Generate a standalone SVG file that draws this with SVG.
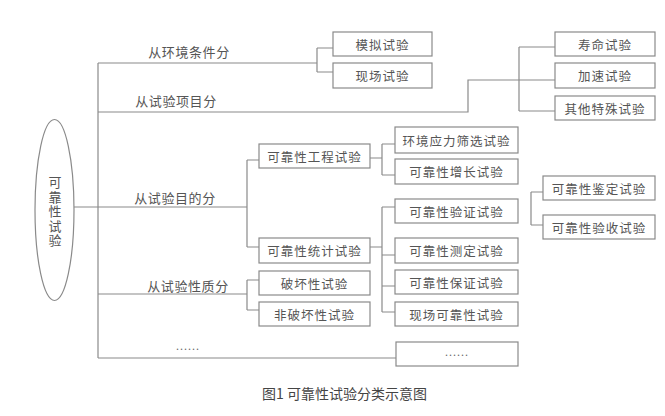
<svg xmlns="http://www.w3.org/2000/svg" width="665" height="416" viewBox="0 0 665 416">
<style>
.box{fill:#fff;stroke:#8a8a8a;stroke-width:1.2}
.t{font-family:"Noto Sans CJK SC","Noto Sans",sans-serif;font-size:12.5px;fill:#555;text-anchor:middle;dominant-baseline:central;letter-spacing:1px}
.lbl{font-family:"Noto Sans CJK SC","Noto Sans",sans-serif;font-size:13px;fill:#555;text-anchor:middle;dominant-baseline:central;letter-spacing:0.6px}
.dots{font-family:"Liberation Serif",serif;font-size:12px;fill:#666;text-anchor:middle;dominant-baseline:central;letter-spacing:1px}
.ln{fill:none;stroke:#8a8a8a;stroke-width:1.2}
.cap{font-family:"Noto Sans CJK SC","Noto Sans",sans-serif;font-size:14px;fill:#444;dominant-baseline:central}
</style>
<rect width="665" height="416" fill="#fff"/>
<g id="connectors" class="ln">
<path d="M98,63 V358"/>
<path d="M98,63 H317 M317,48 V72 M317,48 H333 M317,72 H333"/>
<path d="M98,112 H468 V80 H519 M519,47 V111 M519,47 H555 M519,80 H555 M519,111 H555"/>
<path d="M74,207 H247 M247,160 V247 M247,160 H259 M247,247 H259"/>
<path d="M98,294 H247 M247,280 V310 M247,280 H259 M247,310 H259"/>
<path d="M98,358 H396"/>
<path d="M370,158 H382 M382,144 V175 M382,144 H395 M382,175 H395"/>
<path d="M370,247 H382 M382,207 V312 M382,207 H395 M382,255 H395 M382,286 H395 M382,312 H395"/>
<path d="M531,192 V225 M531,192 H543 M531,225 H543"/>
</g>
<g id="labels">
<text class="lbl" x="189" y="51">从环境条件分</text>
<text class="lbl" x="176" y="100">从试验项目分</text>
<text class="lbl" x="175" y="197">从试验目的分</text>
<text class="lbl" x="188" y="285">从试验性质分</text>
<text class="dots" x="188" y="346">......</text>
</g>
<g id="root">
<ellipse cx="54.5" cy="210" rx="19.5" ry="90.5" fill="#fff" stroke="#8a8a8a" stroke-width="1.2"/>
<text x="55" y="212" writing-mode="vertical-rl" style="font-family:'Noto Sans CJK SC','Noto Sans',sans-serif;font-size:13px;fill:#555;text-anchor:middle;letter-spacing:1.5px">可靠性试验</text>
</g>
<g id="n-moni"><rect class="box" x="333" y="32" width="99" height="24"/><text class="t" x="382.5" y="44">模拟试验</text></g>
<g id="n-xianchang"><rect class="box" x="333" y="63" width="99" height="25"/><text class="t" x="382.5" y="75.5">现场试验</text></g>
<g id="n-shouming"><rect class="box" x="555" y="32" width="100" height="24"/><text class="t" x="605" y="44">寿命试验</text></g>
<g id="n-jiasu"><rect class="box" x="555" y="63" width="100" height="25"/><text class="t" x="605" y="75.5">加速试验</text></g>
<g id="n-qita"><rect class="box" x="555" y="96" width="100" height="24"/><text class="t" x="605" y="108">其他特殊试验</text></g>
<g id="n-gongcheng"><rect class="box" x="259" y="144" width="111" height="24"/><text class="t" x="314.5" y="156">可靠性工程试验</text></g>
<g id="n-tongji"><rect class="box" x="259" y="238" width="111" height="25"/><text class="t" x="314.5" y="250.5">可靠性统计试验</text></g>
<g id="n-pohuai"><rect class="box" x="259" y="271" width="111" height="24"/><text class="t" x="314.5" y="283">破坏性试验</text></g>
<g id="n-feipohuai"><rect class="box" x="259" y="302" width="111" height="24"/><text class="t" x="314.5" y="314">非破坏性试验</text></g>
<g id="n-shaixuan"><rect class="box" x="395" y="127" width="123" height="26"/><text class="t" x="456.5" y="140">环境应力筛选试验</text></g>
<g id="n-zengzhang"><rect class="box" x="395" y="159" width="123" height="25"/><text class="t" x="456.5" y="171.5">可靠性增长试验</text></g>
<g id="n-yanzheng"><rect class="box" x="395" y="199" width="123" height="24"/><text class="t" x="456.5" y="211">可靠性验证试验</text></g>
<g id="n-ceding"><rect class="box" x="395" y="238" width="123" height="25"/><text class="t" x="456.5" y="250.5">可靠性测定试验</text></g>
<g id="n-baozheng"><rect class="box" x="395" y="270" width="123" height="24"/><text class="t" x="456.5" y="282">可靠性保证试验</text></g>
<g id="n-xianchangkk"><rect class="box" x="395" y="302" width="123" height="24"/><text class="t" x="456.5" y="314">现场可靠性试验</text></g>
<g id="n-jianding"><rect class="box" x="543" y="176" width="112" height="24"/><text class="t" x="599" y="188">可靠性鉴定试验</text></g>
<g id="n-yanshou"><rect class="box" x="543" y="215" width="112" height="24"/><text class="t" x="599" y="227">可靠性验收试验</text></g>
<g id="n-more"><rect class="box" x="396" y="342" width="122" height="24"/><text class="dots" x="457" y="352">......</text></g>
<text class="cap" x="262" y="393">图1 可靠性试验分类示意图</text>
</svg>
